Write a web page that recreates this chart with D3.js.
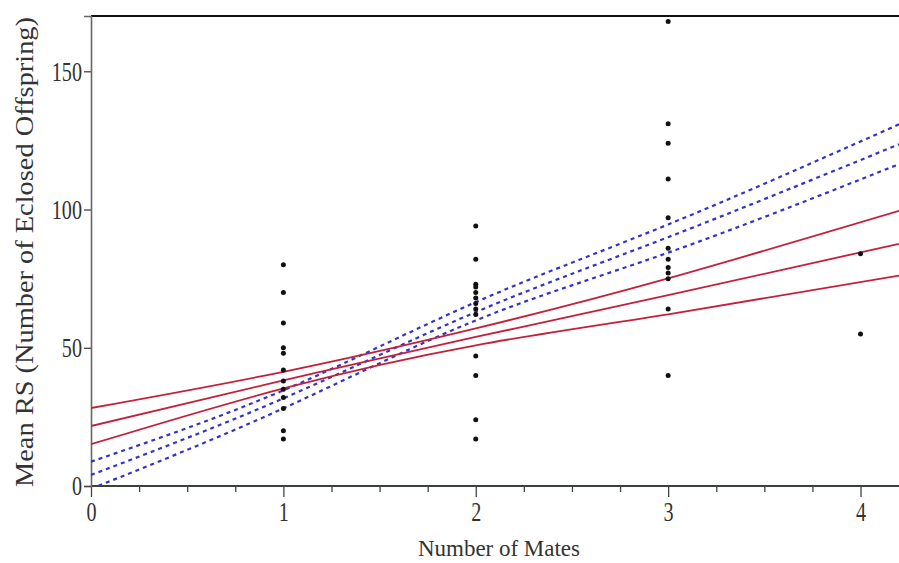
<!DOCTYPE html>
<html>
<head>
<meta charset="utf-8">
<script src="https://cdn.jsdelivr.net/npm/d3@7"></script>
<style>
  body { margin: 0; background: #fff; }
  svg { display: block; }
  text { font-family: "Liberation Serif", "DejaVu Serif", serif; fill: #333; }
</style>
</head>
<body>
<svg width="899" height="563"></svg>
<script>
// observed offspring counts by number of mates
const mateCounts = [1, 2, 3, 4];
const offspring = [
    [80, 70, 59, 50, 48, 42, 38, 35, 32, 28, 20, 17],
    [94, 82, 73, 72, 70, 68, 66, 64, 62, 47, 40, 24, 17],
    [168, 131, 124, 111, 97, 86, 82, 79, 77, 75, 64, 40],
    [84, 55]
];

// fitted lines read at these x positions
const lineX = [0, 1, 2, 3, 4.2];
const redUpper = [28.2, 41.3, 57, 75.1, 99.5];
const redFit = [21.7, 38.2, 53.9, 69, 87.6];
const redLower = [15.1, 35.3, 50.9, 62.1, 76.1];
const blueUpper = [8.8, 34.6, 66.5, 94.6, 130.8];
const blueFit = [4, 31.7, 62.9, 90, 123.6];
const blueLower = [-1, 28.1, 59.9, 84.4, 116.4];

const xTicks = d3.range(0, 4.01, 0.25);
const yTicks = [0, 50, 100, 150];

const svg = d3.select('svg');
const width = +svg.attr('width');
const height = +svg.attr('height');
const margin = { top: 16, right: 0, bottom: 77, left: 91 };
const innerWidth = width - margin.left - margin.right;
const innerHeight = height - margin.top - margin.bottom;

const xScale = d3.scaleLinear().domain([0, 4.2]).range([0, innerWidth]);
const yScale = d3.scaleLinear().domain([0, 170]).range([innerHeight, 0]);

const g = svg.append('g')
    .attr('transform', `translate(${margin.left}, ${margin.top})`);

g.append('clipPath').attr('id', 'plot-clip')
    .append('rect').attr('width', innerWidth).attr('height', innerHeight);

// narrow the serif digits like the figure does
const condense = (sel, k) => sel.each(function () {
    const t = d3.select(this);
    const x = +t.attr('x') || 0;
    t.attr('x', x / k).attr('transform', `scale(${k},1)`);
});

// top border
g.append('line')
    .attr('x1', 0).attr('x2', innerWidth)
    .attr('stroke', '#111').attr('stroke-width', 2);

// x axis
const xAxisG = g.append('g')
    .attr('transform', `translate(0, ${innerHeight})`)
    .call(d3.axisBottom(xScale)
        .tickValues(xTicks)
        .tickSize(11)
        .tickPadding(4)
        .tickFormat(d => Number.isInteger(d) ? d : ''));
xAxisG.select('.domain').remove();
xAxisG.append('line')
    .attr('x1', 0).attr('x2', innerWidth)
    .attr('stroke', '#3a403c').attr('stroke-width', 2.2);
xAxisG.selectAll('.tick line')
    .attr('stroke', '#444').attr('stroke-width', 1.3)
    .attr('y2', d => Number.isInteger(d) ? 11 : 6);
xAxisG.selectAll('.tick text')
    .filter(d => !Number.isInteger(d)).remove();
xAxisG.selectAll('.tick text')
    .attr('font-size', 28).attr('fill', '#333')
    .attr('font-family', '"Liberation Serif", serif')
    .call(condense, 0.72);

// y axis
const yAxisG = g.append('g')
    .call(d3.axisLeft(yScale)
        .tickValues(yTicks)
        .tickSize(7)
        .tickPadding(2));
yAxisG.select('.domain')
    .attr('stroke', '#666').attr('stroke-width', 1.6);
yAxisG.selectAll('.tick line').attr('stroke', '#444').attr('stroke-width', 1.3);
yAxisG.selectAll('.tick text')
    .attr('font-size', 28).attr('fill', '#333')
    .attr('font-family', '"Liberation Serif", serif')
    .call(condense, 0.72);

// lines
const line = d3.line()
    .x((d, i) => xScale(lineX[i]))
    .y(d => yScale(d))
    .curve(d3.curveNatural);

const lines = g.append('g').attr('clip-path', 'url(#plot-clip)');
[blueUpper, blueFit, blueLower].forEach(s => {
    lines.append('path')
        .attr('d', line(s))
        .attr('fill', 'none')
        .attr('stroke', '#3434c4')
        .attr('stroke-width', 2.2)
        .attr('stroke-dasharray', '4,4');
});
[redUpper, redFit, redLower].forEach(s => {
    lines.append('path')
        .attr('d', line(s))
        .attr('fill', 'none')
        .attr('stroke', '#c4203c')
        .attr('stroke-width', 1.8);
});

// points
const points = [];
mateCounts.forEach((m, i) => offspring[i].forEach(v => points.push({ m, v })));
g.append('g').selectAll('circle')
    .data(points)
    .enter()
        .append('circle')
        .attr('cx', d => xScale(d.m))
        .attr('cy', d => yScale(d.v))
        .attr('r', 2.5)
        .attr('fill', '#111');

// axis titles
svg.append('text')
    .text('Number of Mates')
    .attr('x', 499).attr('y', 556)
    .attr('text-anchor', 'middle')
    .attr('font-size', 24)
    .attr('textLength', 162)
    .attr('lengthAdjust', 'spacingAndGlyphs');

svg.append('text')
    .text('Mean RS (Number of Eclosed Offspring)')
    .attr('transform', 'translate(33, 252) rotate(-90)')
    .attr('text-anchor', 'middle')
    .attr('font-size', 25)
    .attr('textLength', 470)
    .attr('lengthAdjust', 'spacingAndGlyphs');
</script>
</body>
</html>
